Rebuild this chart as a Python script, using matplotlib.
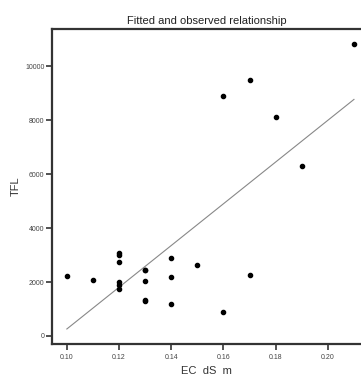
import numpy as np
import matplotlib.pyplot as plt

plt.rcParams['font.family'] = ['Liberation Sans', 'DejaVu Sans']

ec = [0.21, 0.17, 0.16, 0.18, 0.19,
      0.10, 0.11,
      0.12, 0.12, 0.12, 0.12, 0.12, 0.12,
      0.13, 0.13, 0.13, 0.13, 0.13,
      0.14, 0.14, 0.14, 0.15, 0.16, 0.17]
tfl = [10820, 9480, 8900, 8110, 6300,
       2210, 2075,
       3080, 3010, 2750, 1990, 1880, 1740,
       2460, 2430, 2025, 1350, 1300,
       2900, 2185, 1175, 2640, 900, 2250]

# fitted line
fit_x = [0.10, 0.21]
fit_y = [260, 8765]

xticks = [0.10, 0.12, 0.14, 0.16, 0.18, 0.20]
yticks = [0, 2000, 4000, 6000, 8000, 10000]

fig = plt.figure(figsize=(3.61, 3.78), dpi=100)
ax = fig.add_axes([0.144, 0.09, 0.856, 0.833])

ax.scatter(ec, tfl, s=9, color='black', zorder=3)
ax.plot(fit_x, fit_y, color='#888888', lw=0.8)

ax.set_xlim(0.0943, 0.2127)
ax.set_ylim(-296, 11370)
ax.set_xticks(xticks)
ax.set_xticklabels(['%.2f' % v for v in xticks])
ax.set_yticks(yticks)
ax.set_yticklabels([str(v) for v in yticks])

for s in ['left', 'bottom', 'top']:
    ax.spines[s].set_linewidth(1.6)
    ax.spines[s].set_color('#333333')
ax.spines['right'].set_visible(False)

ax.tick_params(direction='out', length=4, width=1.2, color='#333333',
               labelsize=5, labelcolor='#444444', pad=1.5)
ax.tick_params(axis='x', pad=3)

ax.set_title('Fitted and observed relationship', fontsize=8, color='#222222', pad=4)
ax.set_xlabel('EC  dS  m', fontsize=8, color='#333333', labelpad=4)
ax.set_ylabel('TFL', fontsize=8, color='#333333', labelpad=3)

fig.savefig('out.png', dpi=100)
